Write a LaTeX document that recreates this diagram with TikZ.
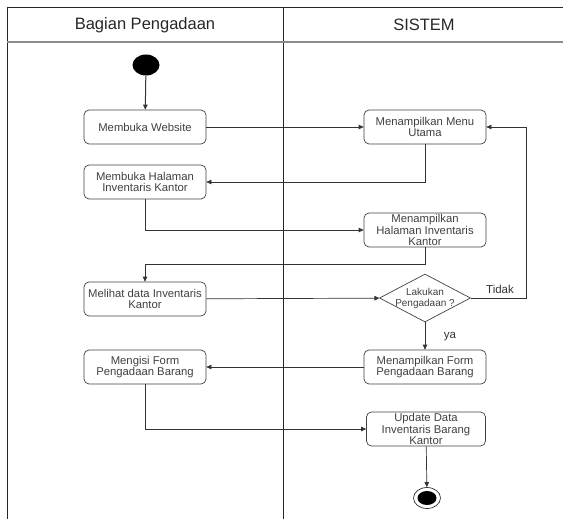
\documentclass[tikz,border=0pt]{standalone}
\usepackage{fontspec}
\setmainfont{Liberation Sans}
\usetikzlibrary{shapes.geometric,arrows.meta}
\begin{document}
\begin{tikzpicture}[x=1pt,y=-1pt,
  act/.style={draw=black!75,line width=0.7pt,rounded corners=5pt,minimum width=122pt,minimum height=34pt,
    align=center,text=black!75,font=\fontsize{11.3}{11.5}\selectfont,inner sep=0pt},
  decide/.style={draw=black!75,line width=0.7pt,diamond,minimum width=91pt,minimum height=48pt,inner sep=0pt},
  dtext/.style={align=center,text=black!75,font=\fontsize{10}{11}\selectfont,inner sep=0pt},
  flow/.style={draw=black!80,line width=0.7pt,-{Triangle[length=5pt,width=4.5pt]}},
  lbl/.style={text=black!80,font=\fontsize{11.5}{13}\selectfont},
  head/.style={text=black!85,font=\fontsize{16.5}{18}\selectfont},
  lane/.style={draw=black!85,line width=0.8pt}]
\useasboundingbox (0,0) rectangle (563,519);

% swimlane frame
\draw[lane] (7,519) -- (7,7) -- (563,7);
\draw[lane] (283,7) -- (283,519);
\draw[draw=black!45,line width=1.4pt] (7,42) -- (563,42);
\node[head] (h1) at (145,25) {Bagian Pengadaan};
\node[head] (h2) at (424,25) {SISTEM};

% start and end
\node[ellipse,fill=black,minimum width=27pt,minimum height=21pt,inner sep=0pt] (start) at (146,65) {};
\node[ellipse,draw=black!80,line width=0.7pt,minimum width=27pt,minimum height=21pt,inner sep=0pt] (stop) at (427,498) {};
\node[ellipse,fill=black,minimum width=19pt,minimum height=14pt,inner sep=0pt] (stopin) at (427,498) {};

% activities
\node[act] (a1) at (145,127) {Membuka Website};
\node[act] (a2) at (145,182) {Membuka Halaman\\Inventaris Kantor};
\node[act] (a3) at (145,299) {Melihat data Inventaris\\Kantor};
\node[act] (a4) at (145,367) {Mengisi Form\\Pengadaan Barang};
\node[act] (s1) at (425,127) {Menampilkan Menu\\Utama};
\node[act] (s2) at (425,230) {Menampilkan\\Halaman Inventaris\\Kantor};
\node[decide] (d) at (425,298) {};
\node[dtext] (dq) at (425,298) {Lakukan\\Pengadaan ?};
\node[act] (s3) at (425,367) {Menampilkan Form\\Pengadaan Barang};
\node[act,minimum width=119pt] (s4) at (426,429) {Update Data\\Inventaris Barang\\Kantor};

% connectors
\draw[flow,line width=1pt] (start) -- (a1);
\draw[flow] (a1) -- (s1);
\draw[flow] (s1.south) |- (a2.east);
\draw[flow] (a2.south) |- (s2.west);
\draw[flow] (s2.south) -- ++(0,17) -| (a3.north);
\draw[flow] (a3) -- (d);
\draw[flow] (d.east) -- (526,298) |- (s1.east);
\draw[flow] (d) -- (s3);
\draw[flow] (s3) -- (a4);
\draw[flow] (a4.south) |- (s4.west);
\draw[flow] (s4) -- (stop);

\node[lbl] (tidak) at (500,289) {Tidak};
\node[lbl] (ya) at (450,337) {ya};
\end{tikzpicture}
\end{document}
